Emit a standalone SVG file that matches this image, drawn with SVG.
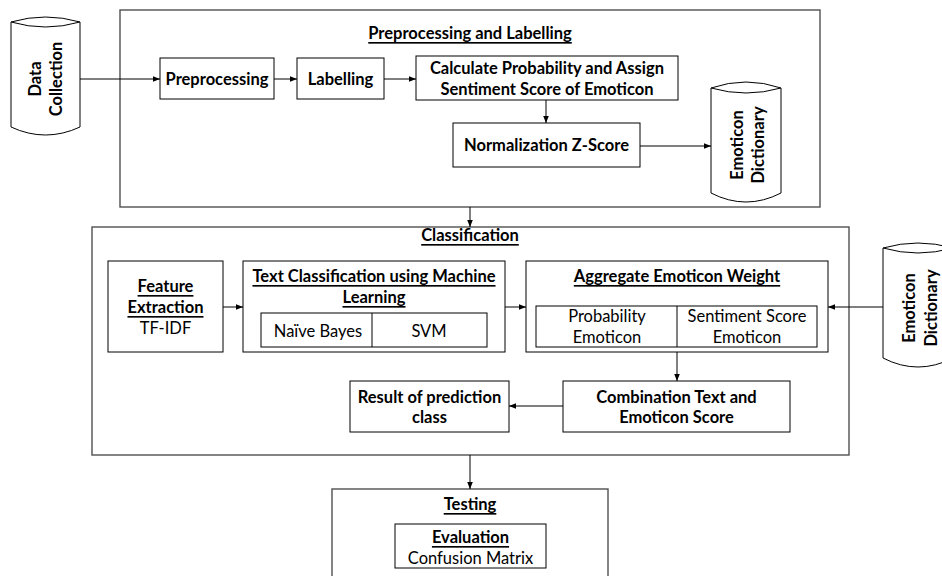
<svg xmlns="http://www.w3.org/2000/svg" width="942" height="576" viewBox="0 0 942 576">
<defs>
<marker id="ah" viewBox="0 0 10 10" refX="10" refY="5" markerWidth="7" markerHeight="7" markerUnits="userSpaceOnUse" orient="auto">
<path d="M0,1 L10,5 L0,9 z" fill="#000"/>
</marker>
</defs>
<style>
text{font-family:Lato,"Liberation Sans",sans-serif;font-size:16.5px;fill:#000;text-anchor:middle;dominant-baseline:central}
.b{font-weight:bold}
.u{text-decoration:underline}
.outer{fill:#fff;stroke:#505050;stroke-width:1.4}
.box{fill:#fff;stroke:#000;stroke-width:1}
.cyl{fill:#fff;stroke:#000;stroke-width:1}
.con{fill:none;stroke:#000;stroke-width:1;marker-end:url(#ah)}
</style>
<rect width="942" height="576" fill="#fff"/>

<g id="preprocessing-labelling">
<rect class="outer" x="120" y="10" width="700" height="197"/>
<text class="b u" x="470" y="33">Preprocessing and Labelling</text>
</g>
<g id="classification">
<rect class="outer" x="92" y="227" width="757" height="228"/>
<text class="b u" x="470" y="235">Classification</text>
</g>
<g id="testing">
<rect class="outer" x="332" y="489" width="276" height="100"/>
<text class="b u" x="470" y="504">Testing</text>
</g>

<g id="data-collection">
<path class="cyl" d="M11,22 Q45.5,12 80,22 L80,127 Q45.5,143 11,127 Z"/>
<path class="cyl" d="M11,22 Q45.5,32 80,22"/>
<text class="b" transform="translate(35,79) rotate(-90)">Data</text>
<text class="b" transform="translate(56,79) rotate(-90)">Collection</text>
</g>

<g id="preprocessing">
<rect class="box" x="160" y="58" width="114" height="41"/>
<text class="b" x="217" y="79">Preprocessing</text>
</g>
<g id="labelling">
<rect class="box" x="297" y="58" width="87" height="41"/>
<text class="b" x="340.5" y="79">Labelling</text>
</g>
<g id="calculate">
<rect class="box" x="416" y="56" width="262" height="44"/>
<text class="b" x="547" y="68">Calculate Probability and Assign</text>
<text class="b" x="547" y="89">Sentiment Score of Emoticon</text>
</g>
<g id="normalization">
<rect class="box" x="453" y="123" width="187" height="44"/>
<text class="b" x="546.5" y="145">Normalization Z-Score</text>
</g>
<g id="emoticon-dictionary-1">
<path class="cyl" d="M711,88 Q746,76 781,88 L781,193 Q746,211 711,193 Z"/>
<path class="cyl" d="M711,88 Q746,98 781,88"/>
<text class="b" transform="translate(737,145) rotate(-90)">Emoticon</text>
<text class="b" transform="translate(758,145) rotate(-90)">Dictionary</text>
</g>

<g id="feature-extraction">
<rect class="box" x="108" y="261" width="115" height="91"/>
<text class="b u" x="165.5" y="286">Feature</text>
<text class="b u" x="165.5" y="307">Extraction</text>
<text x="165.5" y="328">TF-IDF</text>
</g>
<g id="text-classification">
<rect class="box" x="243" y="261" width="262" height="91"/>
<text class="b u" x="374" y="276">Text Classification using Machine</text>
<text class="b u" x="374" y="297">Learning</text>
<rect class="box" x="261" y="313" width="226" height="34"/>
<line x1="372" y1="313" x2="372" y2="347" stroke="#000"/>
<text x="318" y="331">Naïve Bayes</text>
<text x="429" y="331">SVM</text>
</g>
<g id="aggregate">
<rect class="box" x="526" y="261" width="302" height="91"/>
<text class="b u" x="677" y="276">Aggregate Emoticon Weight</text>
<rect class="box" x="536" y="306" width="281" height="41"/>
<line x1="677" y1="306" x2="677" y2="347" stroke="#000"/>
<text x="607" y="316">Probability</text>
<text x="607" y="337">Emoticon</text>
<text x="747" y="316">Sentiment Score</text>
<text x="747" y="337">Emoticon</text>
</g>
<g id="emoticon-dictionary-2">
<path class="cyl" d="M883,248 Q918,238 953,248 L953,358 Q918,376 883,358 Z"/>
<path class="cyl" d="M883,248 Q918,258 953,248"/>
<text class="b" transform="translate(909,308) rotate(-90)">Emoticon</text>
<text class="b" transform="translate(931,308) rotate(-90)">Dictionary</text>
</g>
<g id="combination">
<rect class="box" x="563" y="381" width="227" height="51"/>
<text class="b" x="676.5" y="397">Combination Text and</text>
<text class="b" x="676.5" y="417">Emoticon Score</text>
</g>
<g id="result">
<rect class="box" x="350" y="381" width="159" height="51"/>
<text class="b" x="429.5" y="397">Result of prediction</text>
<text class="b" x="429.5" y="417">class</text>
</g>
<g id="evaluation">
<rect class="box" x="395" y="524" width="151" height="44"/>
<text class="b u" x="470.5" y="537">Evaluation</text>
<text x="470.5" y="558">Confusion Matrix</text>
</g>

<g id="connectors">
<path class="con" d="M80,79 L160,79"/>
<path class="con" d="M274,79 L297,79"/>
<path class="con" d="M384,79 L416,79"/>
<path class="con" d="M546,100 L546,123"/>
<path class="con" d="M640,146 L711,146"/>
<path class="con" d="M470,207 L470,227"/>
<path class="con" d="M223,307 L243,307"/>
<path class="con" d="M505,307 L526,307"/>
<path class="con" d="M883,307 L828,307"/>
<path class="con" d="M677,352 L677,381"/>
<path class="con" d="M563,406 L509,406"/>
<path class="con" d="M470,455 L470,489"/>
</g>
</svg>
